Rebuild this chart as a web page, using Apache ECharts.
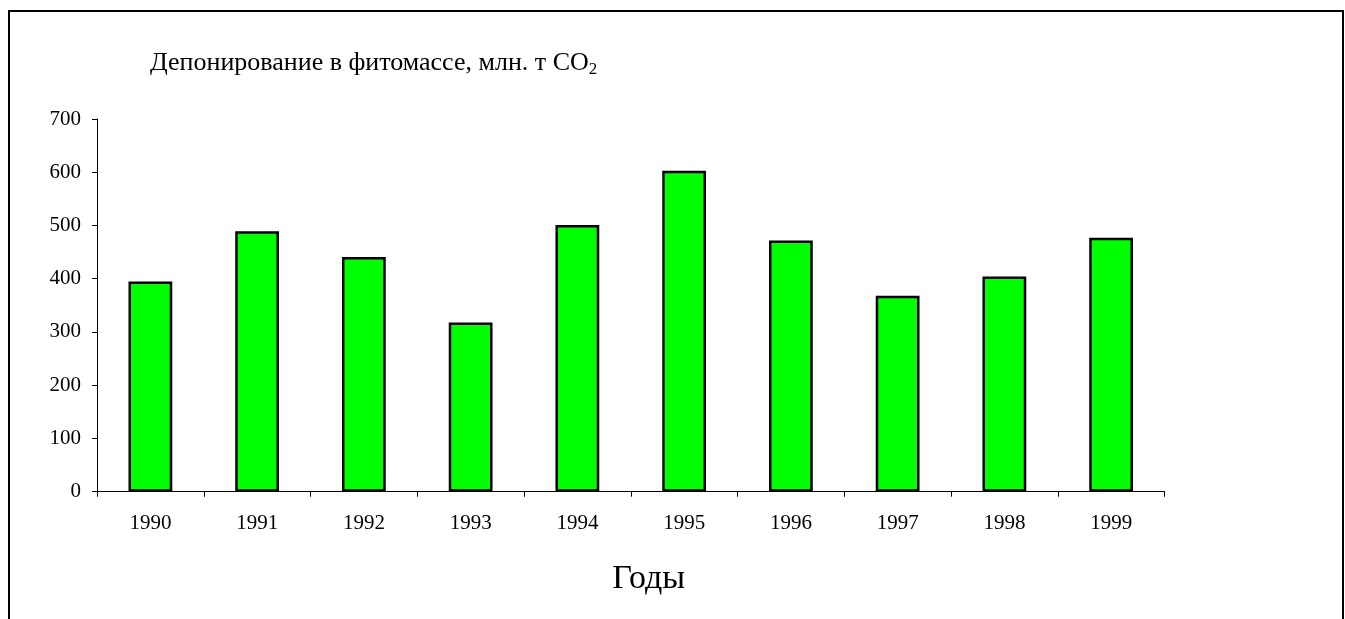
<!DOCTYPE html>
<html>
<head>
<meta charset="utf-8">
<script src="https://cdn.jsdelivr.net/npm/echarts@6/dist/echarts.min.js"></script>
<style>
  html, body { margin: 0; padding: 0; background: #fff; }
  #chart { width: 1345px; height: 619px; }
</style>
</head>
<body>
<div id="chart"></div>
<script>
// годы и депонирование (млн. т CO2)
var years = ["1990", "1991", "1992", "1993", "1994", "1995", "1996", "1997", "1998", "1999"];
var values = [395, 489, 441, 318, 501, 603, 472, 368, 404, 477];
var yTicks = [0, 100, 200, 300, 400, 500, 600, 700];

var serif = "'Liberation Serif', 'Times New Roman', serif";
var myChart = echarts.init(document.getElementById("chart"));

var option = {
  backgroundColor: "#fff",
  animation: false,
  graphic: [
    {
      // рамка вокруг диаграммы
      type: "rect",
      shape: { x: 9, y: 11, width: 1334, height: 640 },
      style: { fill: "none", stroke: "#000", lineWidth: 2 },
      silent: true
    }
  ],
  title: {
    left: 145,
    top: 43,
    text: "{a|Депонирование в фитомассе, млн. т CO}{s|2}",
    textStyle: {
      fontWeight: "normal",
      rich: {
        a: { fontFamily: serif, fontSize: 26, fontWeight: "normal", color: "#000" },
        s: { fontFamily: serif, fontSize: 17, fontWeight: "normal", color: "#000", verticalAlign: "bottom", padding: [13, 0, 0, 0] }
      }
    }
  },
  grid: {
    left: 97,
    right: 180.5,
    top: 119,
    bottom: 127.3
  },
  xAxis: {
    type: "category",
    data: years,
    name: "Годы",
    nameLocation: "middle",
    nameGap: 70,
    nameTextStyle: { fontFamily: serif, fontSize: 34, color: "#000", padding: [0, 0, 0, 36] },
    axisLine: { lineStyle: { color: "#000", width: 1 } },
    axisTick: { show: true, alignWithLabel: false, length: 5, lineStyle: { color: "#000" } },
    axisLabel: { fontFamily: serif, fontSize: 21, color: "#000", margin: 21 }
  },
  yAxis: {
    type: "value",
    min: yTicks[0],
    max: yTicks[yTicks.length - 1],
    interval: 100,
    axisLine: { show: true, lineStyle: { color: "#000", width: 1 } },
    axisTick: { show: true, length: 5, lineStyle: { color: "#000" } },
    axisLabel: { fontFamily: serif, fontSize: 21, color: "#000", margin: 16 },
    splitLine: { show: false }
  },
  series: [
    {
      type: "bar",
      data: values,
      barWidth: "41%",
      itemStyle: {
        color: "#00ff00",
        borderColor: "#000",
        borderWidth: 2.5
      }
    }
  ]
};

myChart.setOption(option);
</script>
</body>
</html>
